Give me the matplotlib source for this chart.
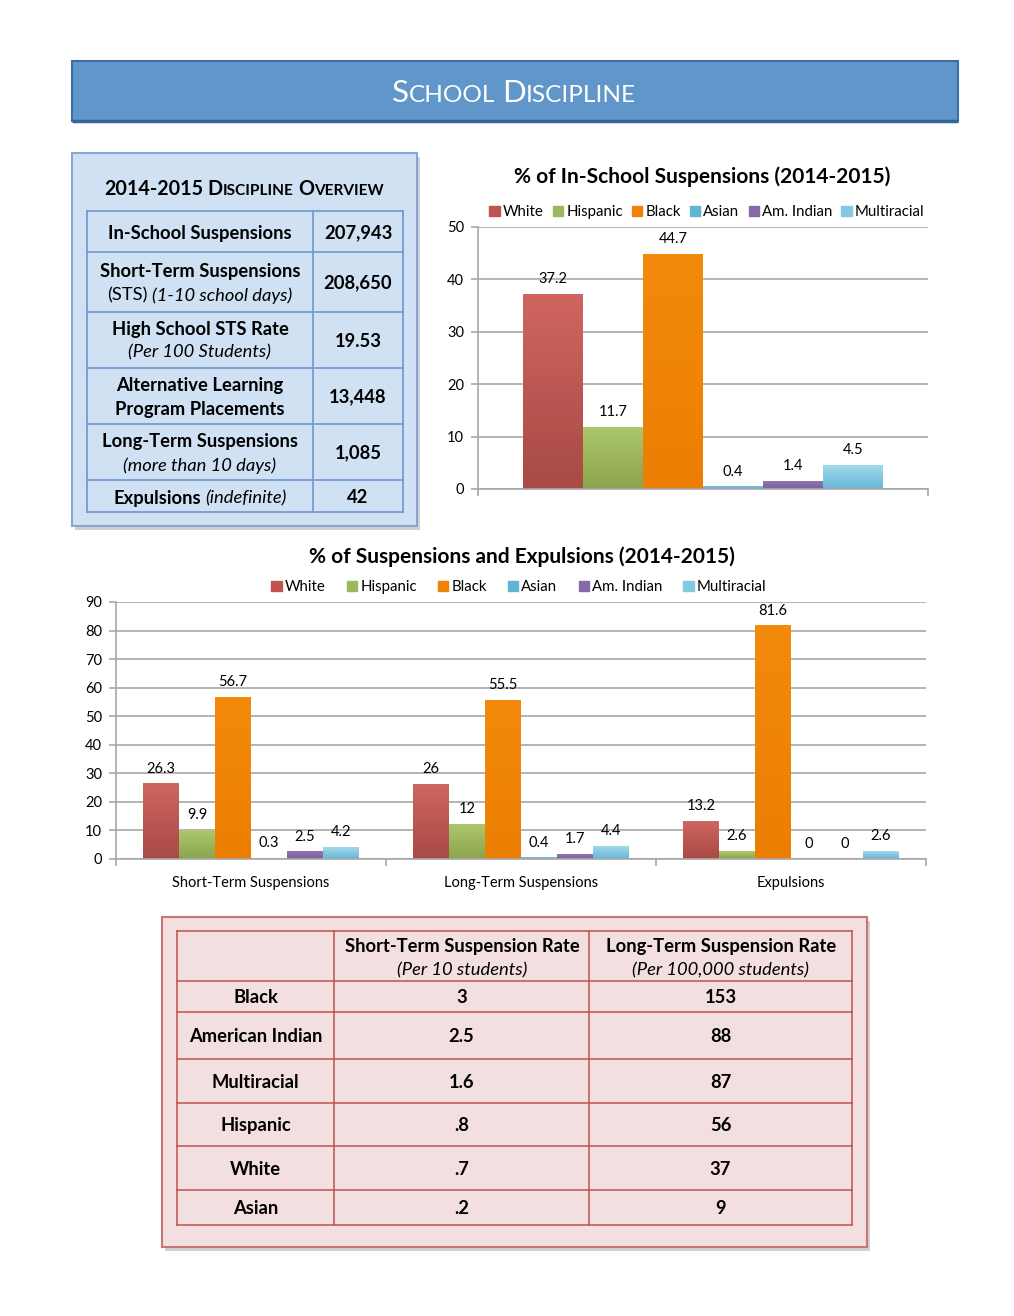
import matplotlib
matplotlib.use('Agg')
import matplotlib.pyplot as plt
import numpy as np
from matplotlib.patches import Rectangle, Patch
from matplotlib.colors import LinearSegmentedColormap

plt.rcParams['font.family'] = ['Lato', 'DejaVu Sans']

W, H = 1014, 1316

# ---- data ----
races = ['White', 'Hispanic', 'Black', 'Asian', 'Am. Indian', 'Multiracial']
race_colors = ['#c0544f', '#9bb85c', '#f08307', '#62b4d4', '#8669a6', '#84c9e2']
# (top, bottom) shades for the gradient fill
race_shades = [('#cf6560', '#a84a45'), ('#adc76c', '#8ba44e'), ('#f38a0b', '#ec7f03'),
			   ('#7cc4e0', '#55aacb'), ('#8f74ad', '#7d619e'), ('#a3d8ec', '#66b7d6')]

iss_pct = [37.2, 11.7, 44.7, 0.4, 1.4, 4.5]

categories = ['Short-Term Suspensions', 'Long-Term Suspensions', 'Expulsions']
sts_pct = [26.3, 9.9, 56.7, 0.3, 2.5, 4.2]
lts_pct = [26, 12, 55.5, 0.4, 1.7, 4.4]
exp_pct = [13.2, 2.6, 81.6, 0, 0, 2.6]

overview_values = ['207,943', '208,650', '19.53', '13,448', '1,085', '42']

rate_races = ['Black', 'American Indian', 'Multiracial', 'Hispanic', 'White', 'Asian']
st_rates = ['3', '2.5', '1.6', '.8', '.7', '.2']
lt_rates = ['153', '88', '87', '56', '37', '9']

fig = plt.figure(figsize=(W / 100, H / 100), dpi=100)
bg = fig.add_axes([0, 0, 1, 1])
bg.set_xlim(0, W)
bg.set_ylim(H, 0)
bg.axis('off')
renderer = fig.canvas.get_renderer()


def base(cy, size):
	# baseline from visual centre of caps
	return cy + 0.36 * size * 100 / 72


def rich(cx, cy, pieces, color='black', size_ref=None):
	# pieces: (text, size, weight, style, gap_px)
	size_ref = size_ref or pieces[0][1]
	y = base(cy, size_ref)
	objs = []
	total = 0
	for txt, size, weight, style, gap in pieces:
		t = bg.text(0, y, txt, fontsize=size, fontweight=weight, fontstyle=style,
					color=color, ha='left', va='baseline')
		w = t.get_window_extent(renderer).width
		objs.append((t, w, gap))
		total += w + gap
	x = cx - total / 2
	for t, w, gap in objs:
		x += gap
		t.set_x(x)
		x += w


def smallcaps(words, size, weight='normal', ratio=0.78, space=0.2):
	pieces = []
	for i, w in enumerate(words.split()):
		gap = 0 if i == 0 else size * 1.389 * space
		if w[0].isdigit():
			pieces.append((w, size, weight, 'normal', gap))
			continue
		pieces.append((w[0], size, weight, 'normal', gap))
		if len(w) > 1:
			pieces.append((w[1:].upper(), size * ratio, weight, 'normal', 0))
	return pieces


def box(x0, y0, x1, y1, fc, ec, lw=1.2, shadow=True):
	if shadow:
		bg.add_patch(Rectangle((x0 + 3, y0 + 4), x1 - x0, y1 - y0, fc='#9a9a9a', ec='none', alpha=0.45, zorder=0))
	bg.add_patch(Rectangle((x0, y0), x1 - x0, y1 - y0, fc=fc, ec=ec, lw=lw, zorder=1))


# ---- header ----
box(72, 61, 958, 121, '#6096c9', '#3d6fa3', lw=1.5, shadow=False)
bg.plot([72, 958], [120.5, 120.5], color='#35659a', lw=2.5, zorder=2, solid_capstyle='butt')
rich(514, 91, smallcaps('School Discipline', 22.5, space=0.2), color='white')

# ---- overview box ----
box(72, 153, 417, 526, '#d0e1f4', '#86a7cf', lw=1.5)
rich(244, 188, smallcaps('2014-2015 Discipline Overview', 14.2, 'bold', space=0.22))
ov_rows = [211, 252, 312, 368, 424, 480, 512]
ov_cols = [87, 313, 403]
for yy in ov_rows:
	bg.plot([ov_cols[0], ov_cols[-1]], [yy, yy], color='#6f96d0', lw=1.2, zorder=2)
for xx in ov_cols:
	bg.plot([xx, xx], [ov_rows[0], ov_rows[-1]], color='#6f96d0', lw=1.2, zorder=2)

fs = 13.2
lc = (ov_cols[0] + ov_cols[1]) / 2
rich(lc, 232, [('In-School Suspensions', fs, 'bold', 'normal', 0)])
rich(lc, 270, [('Short-Term Suspensions', fs, 'bold', 'normal', 0)])
rich(lc, 294, [('(STS)', fs, 'normal', 'normal', 0), ('(1-10 school days)', fs, 'normal', 'italic', 4)])
rich(lc, 328, [('High School STS Rate', fs, 'bold', 'normal', 0)])
rich(lc, 351, [('(Per 100 Students)', fs, 'normal', 'italic', 0)])
rich(lc, 384, [('Alternative Learning', fs, 'bold', 'normal', 0)])
rich(lc, 408, [('Program Placements', fs, 'bold', 'normal', 0)])
rich(lc, 440, [('Long-Term Suspensions', fs, 'bold', 'normal', 0)])
rich(lc, 464, [('(more than 10 days)', fs, 'normal', 'italic', 0)])
rich(lc, 497, [('Expulsions', fs, 'bold', 'normal', 0), ('(indefinite)', fs, 'normal', 'italic', 4)])
rc = (ov_cols[1] + ov_cols[2]) / 2
for i, v in enumerate(overview_values):
	rich(rc, (ov_rows[i] + ov_rows[i + 1]) / 2, [(v, fs, 'bold', 'normal', 0)])

# ---- rate table ----
box(162, 917, 867, 1247, '#f3dfdf', '#c77676', lw=1.5)
rt_rows = [931, 981, 1012, 1059, 1103, 1146, 1190, 1225]
rt_cols = [177, 334, 589, 852]
for yy in rt_rows:
	bg.plot([rt_cols[0], rt_cols[-1]], [yy, yy], color='#c0504d', lw=1.1, zorder=2)
for xx in rt_cols:
	bg.plot([xx, xx], [rt_rows[0], rt_rows[-1]], color='#c0504d', lw=1.1, zorder=2)
rich(462, 945, [('Short-Term Suspension Rate', fs, 'bold', 'normal', 0)])
rich(462, 969, [('(Per 10 students)', fs, 'normal', 'italic', 0)])
rich(721, 945, [('Long-Term Suspension Rate', fs, 'bold', 'normal', 0)])
rich(721, 969, [('(Per 100,000 students)', fs, 'normal', 'italic', 0)])
for i in range(len(rate_races)):
	cy = (rt_rows[i + 1] + rt_rows[i + 2]) / 2
	rich((rt_cols[0] + rt_cols[1]) / 2, cy, [(rate_races[i], fs, 'bold', 'normal', 0)])
	rich((rt_cols[1] + rt_cols[2]) / 2, cy, [(st_rates[i], fs, 'bold', 'normal', 0)])
	rich((rt_cols[2] + rt_cols[3]) / 2, cy, [(lt_rates[i], fs, 'bold', 'normal', 0)])


def rect(x0, y0, x1, y1):
	return [x0 / W, 1 - y1 / H, (x1 - x0) / W, (y1 - y0) / H]


def style_axis(ax, ymax, step):
	ax.set_facecolor('none')
	ax.set_yticks(range(0, ymax + 1, step))
	ax.grid(axis='y', color='#a8a8a8', lw=1.2)
	ax.set_axisbelow(True)
	for s in ['top', 'right']:
		ax.spines[s].set_visible(False)
	for s in ['left', 'bottom']:
		ax.spines[s].set_color('#a8a8a8')
		ax.spines[s].set_linewidth(1.2)
	ax.tick_params(axis='y', colors='#a8a8a8', labelcolor='black', length=5, width=1.2, labelsize=10.5, pad=5)


def shade(ax, bars, top, bottom):
	cmap = LinearSegmentedColormap.from_list('g', [bottom, top])
	grad = np.linspace(0, 1, 64).reshape(-1, 1)
	for b in bars:
		if b.get_height() <= 0:
			continue
		x, w, h = b.get_x(), b.get_width(), b.get_height()
		ax.imshow(grad, extent=[x, x + w, 0, h], origin='lower', aspect='auto', cmap=cmap, zorder=2)


handles = [Patch(color=c) for c in race_colors]
bw = 0.8 / 6

# ---- in-school suspensions chart ----
ax1 = fig.add_axes(rect(478, 227, 928, 489))
style_axis(ax1, 50, 10)
for i in range(6):
	b = ax1.bar(0.5 + (i - 2.5) * bw, iss_pct[i], width=bw, color=race_colors[i], zorder=2)
	shade(ax1, b, *race_shades[i])
	ax1.bar_label(b, fmt='%g', padding=6, fontsize=10.5)
ax1.set_xlim(0, 1)
ax1.set_ylim(0, 50)
ax1.set_xticks([0, 1])
ax1.set_xticklabels([])
ax1.tick_params(axis='x', colors='#a8a8a8', length=5, width=1.2)
fig.text(702 / W, 1 - 177 / H, '% of In-School Suspensions (2014-2015)', fontsize=15,
		 fontweight='bold', ha='center', va='center')
fig.legend(handles, races, loc='center', bbox_to_anchor=(707 / W, 1 - 212 / H), ncol=6, frameon=False,
		   fontsize=10.8, handlelength=0.7, handleheight=0.7, handletextpad=0.2, columnspacing=0.6)

# ---- suspensions and expulsions chart ----
ax2 = fig.add_axes(rect(116, 602, 926, 859))
style_axis(ax2, 90, 10)
series = [sts_pct, lts_pct, exp_pct]
for i in range(6):
	vals = [s[i] for s in series]
	xs = [k + (i - 2.5) * bw for k in range(3)]
	b = ax2.bar(xs, vals, width=bw, color=race_colors[i], zorder=2)
	shade(ax2, b, *race_shades[i])
	ax2.bar_label(b, fmt='%g', padding=6, fontsize=10.5)
ax2.set_xlim(-0.5, 2.5)
ax2.set_ylim(0, 90)
ax2.set_xticks(range(3))
ax2.set_xticklabels(categories, fontsize=10.5)
ax2.tick_params(axis='x', length=0, pad=12)
ax2.set_xticks([-0.5, 0.5, 1.5, 2.5], minor=True)
ax2.tick_params(axis='x', which='minor', colors='#a8a8a8', length=5, width=1.2)
fig.text(522 / W, 1 - 557 / H, '% of Suspensions and Expulsions (2014-2015)', fontsize=15,
		 fontweight='bold', ha='center', va='center')
fig.legend(handles, races, loc='center', bbox_to_anchor=(519 / W, 1 - 587 / H), ncol=6, frameon=False,
		   fontsize=10.8, handlelength=0.7, handleheight=0.7, handletextpad=0.2, columnspacing=1.4)

fig.savefig('out.png', dpi=100)
